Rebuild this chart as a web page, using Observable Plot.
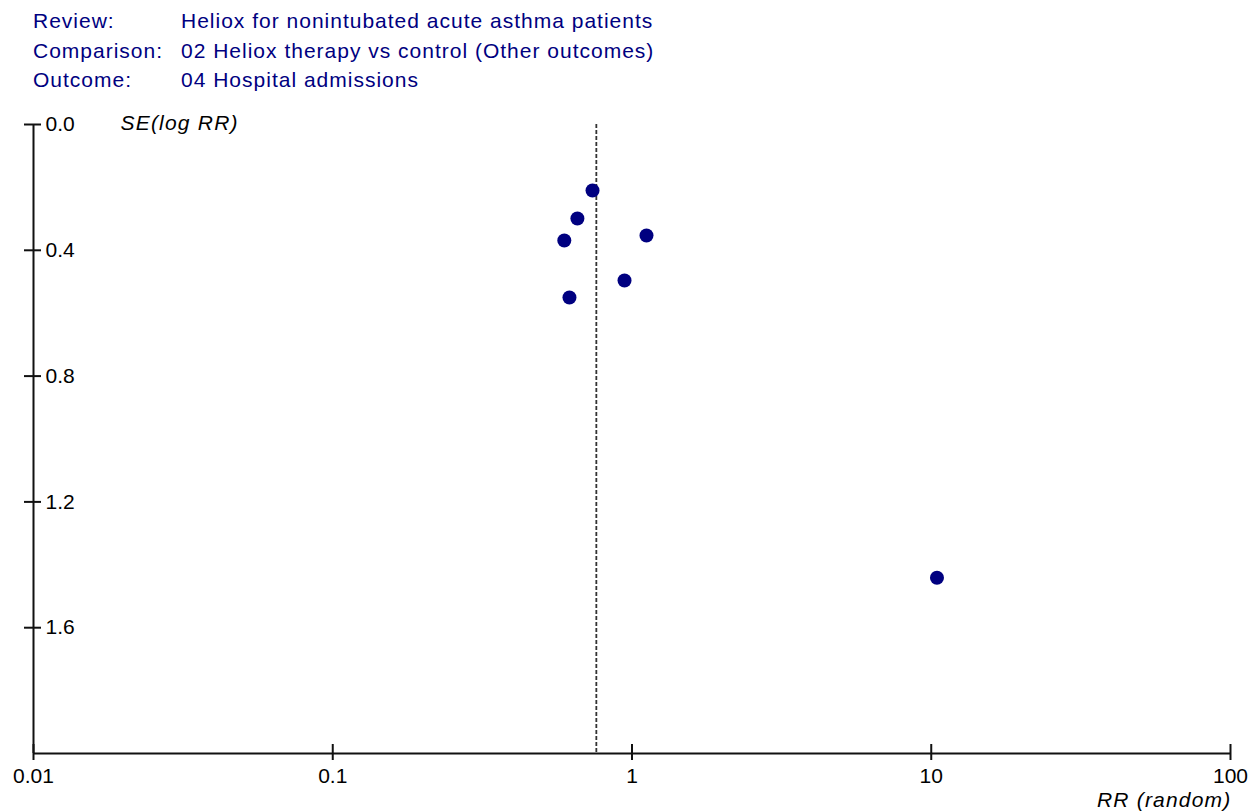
<!DOCTYPE html>
<html>
<head>
<meta charset="utf-8">
<script src="https://cdn.jsdelivr.net/npm/d3@7"></script>
<script src="https://cdn.jsdelivr.net/npm/@observablehq/plot@0.6"></script>
<style>
  html, body { margin: 0; padding: 0; background: #fff; }
  body { position: relative; width: 1258px; height: 812px; overflow: hidden; font-family: "Liberation Sans", Arial, sans-serif; }
  .hdr { position: absolute; color: #000080; font-size: 21px; line-height: 21px; letter-spacing: 1px; white-space: nowrap; }
  #chart { position: absolute; left: 0; top: 100px; }
  #chart g[font-style="italic"] text { letter-spacing: 1.2px; }
</style>
</head>
<body>
<div id="header"></div>
<div id="chart"></div>
<script>
// ---- data ----
const headerKeys = ["Review:", "Comparison:", "Outcome:"];
const headerValues = [
  "Heliox for nonintubated acute asthma patients",
  "02 Heliox therapy vs control (Other outcomes)",
  "04 Hospital admissions"
];
const studyRR = [0.738, 0.657, 0.594, 1.118, 0.944, 0.618, 10.45];
const studySE = [0.210, 0.299, 0.369, 0.353, 0.496, 0.550, 1.441];
const pooledRR = [0.76];
const xTicks = [0.01, 0.1, 1, 10, 100];
const xTickLabels = ["0.01", "0.1", "1", "10", "100"];
const yTicks = [0, 0.4, 0.8, 1.2, 1.6];
const yTickLabels = ["0.0", "0.4", "0.8", "1.2", "1.6"];
const xDomain = [0.01, 100];
const yDomain = [0, 2];
const yTitle = "SE(log RR)";
const xTitle = "RR (random)";

// ---- header ----
const header = document.getElementById("header");
const tops = [10, 40, 69];
headerKeys.forEach((k, i) => {
  const a = document.createElement("div");
  a.className = "hdr"; a.style.left = "33px"; a.style.top = tops[i] + "px"; a.textContent = k;
  const b = document.createElement("div");
  b.className = "hdr"; b.style.left = "181px"; b.style.top = tops[i] + "px"; b.textContent = headerValues[i];
  header.appendChild(a); header.appendChild(b);
});

// ---- chart ----
const points = studyRR.map((r, i) => ({rr: r, se: studySE[i]}));
const ink = "#111";
const font = "'Liberation Sans', Arial, sans-serif";

const plot = Plot.plot({
  width: 1258,
  height: 712,
  marginTop: 24,
  marginBottom: 59,
  marginLeft: 33,
  marginRight: 28,
  style: {fontFamily: font, background: "transparent", overflow: "visible"},
  x: {type: "log", domain: xDomain, axis: null},
  y: {domain: yDomain, reverse: true, axis: null},
  marks: [
    Plot.ruleX([xDomain[0]], {x: d => d, y1: yDomain[0], y2: yDomain[1], stroke: ink, strokeWidth: 2}),
    Plot.ruleY([yDomain[1]], {y: d => d, x1: xDomain[0], x2: xDomain[1], stroke: ink, strokeWidth: 2}),
    Plot.ruleY(yTicks, {y: d => d, x1: xDomain[0], x2: xDomain[0], insetLeft: -9, insetRight: -8, stroke: ink, strokeWidth: 2}),
    Plot.ruleX(xTicks, {x: d => d, y1: yDomain[1], y2: yDomain[1], insetTop: -9, insetBottom: -7, stroke: ink, strokeWidth: 2}),
    Plot.text(yTicks, {x: xDomain[0], y: d => d, text: (d, i) => yTickLabels[i], textAnchor: "start", dx: 12, dy: 0, fontSize: 21, fill: "#000"}),
    Plot.text(xTicks, {x: d => d, y: yDomain[1], text: (d, i) => xTickLabels[i], textAnchor: "middle", dy: 23, fontSize: 21, fill: "#000"}),
    Plot.text([yTitle], {x: xDomain[0], y: yDomain[0], text: d => d, textAnchor: "start", dx: 87, dy: -1, fontSize: 21, fontStyle: "italic", fill: "#000"}),
    Plot.text([xTitle], {x: xDomain[1], y: yDomain[1], text: d => d, textAnchor: "end", dx: 1, dy: 47, fontSize: 21, fontStyle: "italic", fill: "#000"}),
    Plot.ruleX(pooledRR, {x: d => d, y1: yDomain[0], y2: yDomain[1], stroke: "#333", strokeWidth: 1.8, strokeDasharray: "4,2"}),
    Plot.dot(points, {x: "rr", y: "se", r: 7, fill: "#000080", stroke: "none"})
  ]
});
document.getElementById("chart").appendChild(plot);
</script>
</body>
</html>
